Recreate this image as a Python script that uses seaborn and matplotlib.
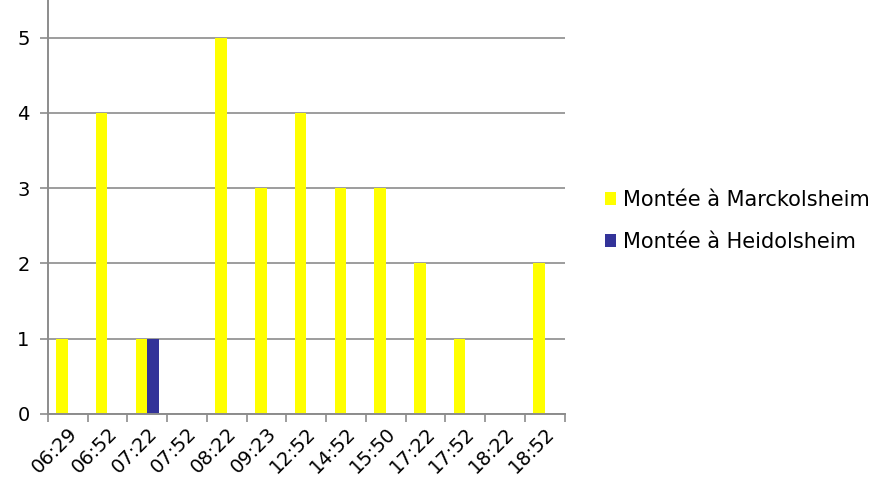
import matplotlib
matplotlib.use("Agg")
import matplotlib.pyplot as plt
import pandas as pd
import seaborn as sns

# Boarding counts per departure time
horaires = ["06:29", "06:52", "07:22", "07:52", "08:22", "09:23", "12:52",
            "14:52", "15:50", "17:22", "17:52", "18:22", "18:52"]
marckolsheim = [1, 4, 1, 0, 5, 3, 4, 3, 3, 2, 1, 0, 2]
heidolsheim = [0, 0, 1, 0, 0, 0, 0, 0, 0, 0, 0, 0, 0]
series = ["Montée à Marckolsheim", "Montée à Heidolsheim"]
colors = ["#FFFF00", "#333399"]

df = pd.DataFrame({
    "horaire": horaires * 2,
    "montees": marckolsheim + heidolsheim,
    "serie": [series[0]] * len(horaires) + [series[1]] * len(horaires),
})

sns.set_theme(style="white")
plt.rcParams["font.family"] = ["DejaVu Sans"]
plt.rcParams["text.color"] = "black"
plt.rcParams["xtick.labelcolor"] = "black"
plt.rcParams["ytick.labelcolor"] = "black"

fig = plt.figure(figsize=(8.77, 4.91), dpi=100)
ax = fig.add_axes([0.0545, 0.157, 0.5895, 0.843])

sns.barplot(data=df, x="horaire", y="montees", hue="serie", order=horaires,
            hue_order=series, palette=colors, width=0.58, saturation=1,
            linewidth=0, ax=ax, legend=True)

grey = "#8C8C8C"
ax.set_ylim(0, 5.5)
ax.set_xlim(-0.5, len(horaires) - 0.5)
ax.set_yticks(range(0, 6))
ax.yaxis.grid(True, color=grey, linewidth=1.2)
ax.set_axisbelow(True)
ax.set_xlabel("")
ax.set_ylabel("")

for side in ["top", "right"]:
    ax.spines[side].set_visible(False)
for side in ["left", "bottom"]:
    ax.spines[side].set_color(grey)
    ax.spines[side].set_linewidth(1.4)

# category ticks sit between the groups
ax.set_xticks([i - 0.5 for i in range(len(horaires) + 1)], minor=True)
ax.tick_params(axis="x", which="minor", length=6, width=1.2, color=grey,
               direction="out", bottom=True)
ax.tick_params(axis="x", which="major", length=0, labelsize=14, pad=7)
ax.tick_params(axis="y", length=6, width=1.2, color=grey, direction="out",
               left=True, labelsize=14, pad=7)
ax.set_xticks(range(len(horaires)))
ax.set_xticklabels(horaires, rotation=45, ha="right", rotation_mode="anchor")

handles, labels = ax.get_legend_handles_labels()
ax.get_legend().remove()
fig.legend(handles, labels, loc="center left",
           bbox_to_anchor=(605 / 877, 1 - 221 / 491),
           frameon=False, fontsize=15, handlelength=0.55, handleheight=0.55,
           handletextpad=0.3, labelspacing=1.05, borderaxespad=0,
           borderpad=0)

fig.savefig("out.png", dpi=100)
